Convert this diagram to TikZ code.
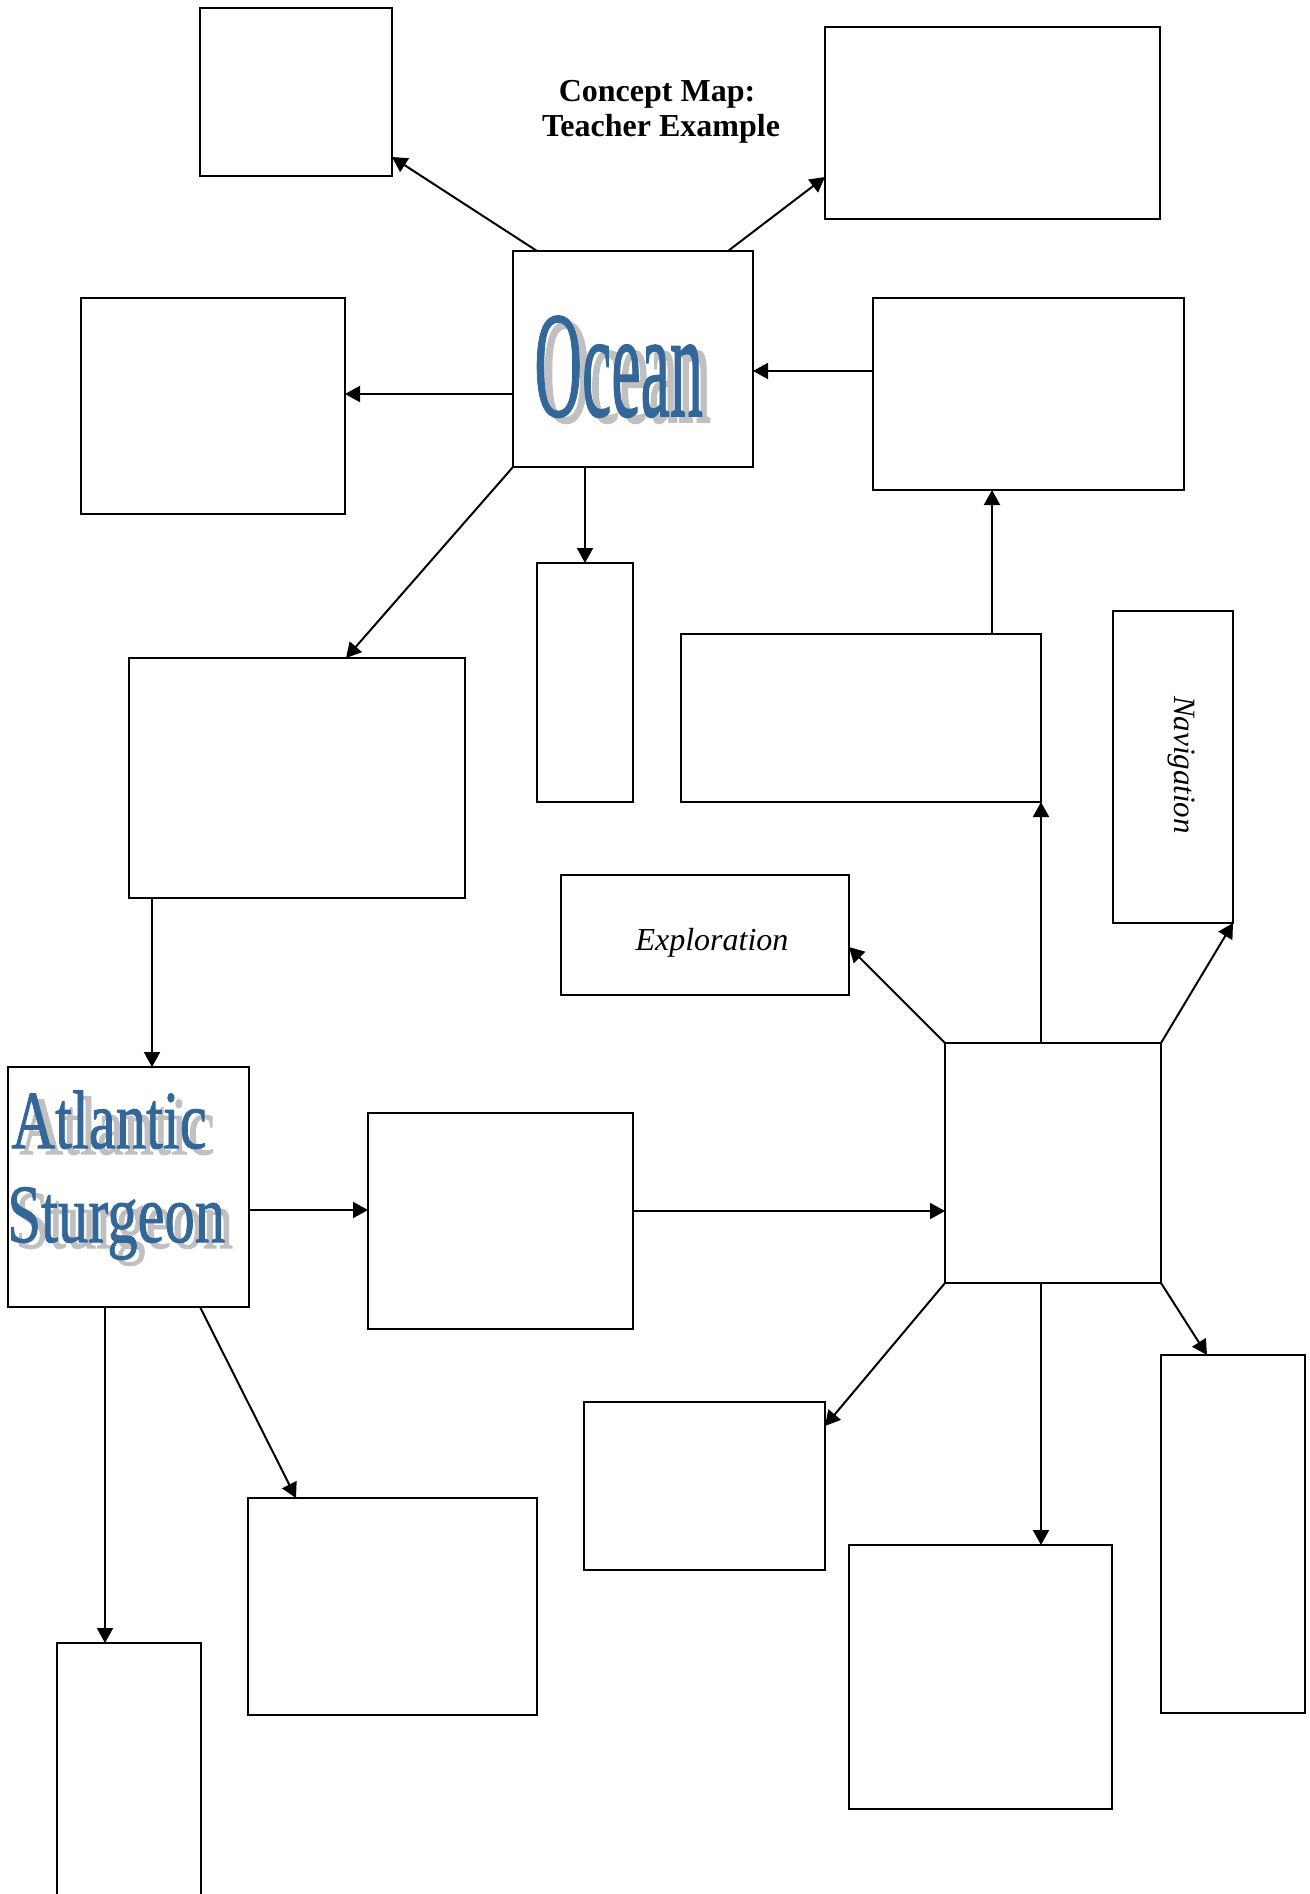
\documentclass[tikz,border=0pt]{standalone}
\usepackage{fontspec}
\setmainfont{Liberation Serif}
\newfontfamily\wafont{Liberation Serif}[FakeBold=1.2]
\usetikzlibrary{arrows.meta}
\definecolor{wablue}{HTML}{336699}
\definecolor{wagray}{HTML}{C0C0C0}
\newcommand\shadowword[3]{%
  \makebox[0pt][l]{\hspace*{4pt}\raisebox{-3pt}{\textcolor{wagray}{\scalebox{#1}[#2]{#3}}}}%
  \textcolor{wablue}{\scalebox{#1}[#2]{#3}}}
\begin{document}
\begin{tikzpicture}[x=0.5pt,y=-0.5pt,
  box/.style={draw, rectangle, line width=1pt, inner sep=0pt, outer sep=0pt},
  arr/.style={line width=1pt, -{Triangle[length=7.5pt,width=8pt]}}]
\useasboundingbox (0,0) rectangle (1310,1894);
\clip (0,0) rectangle (1310,1894);
% boxes
\node[box, minimum width=96pt, minimum height=84pt] (b1) at (296,92) {};
\node[box, minimum width=167.5pt, minimum height=96pt] (b2) at (992.5,123) {};
\node[box, minimum width=120pt, minimum height=108pt] (ocean) at (633,359) {};
\node[box, minimum width=132pt, minimum height=108pt] (b3) at (213,406) {};
\node[box, minimum width=155.5pt, minimum height=96pt] (b4) at (1028.5,394) {};
\node[box, minimum width=48pt, minimum height=119.5pt] (b5) at (585,682.5) {};
\node[box, minimum width=168pt, minimum height=120pt] (b6) at (297,778) {};
\node[box, minimum width=180pt, minimum height=84pt] (b7) at (861,718) {};
\node[box, minimum width=60pt, minimum height=156pt] (nav) at (1173,767) {};
\node[box, minimum width=144pt, minimum height=60pt] (expl) at (705,935) {};
\node[box, minimum width=108pt, minimum height=120pt] (hub) at (1053,1163) {};
\node[box, minimum width=120.5pt, minimum height=120pt] (stur) at (128.5,1187) {};
\node[box, minimum width=132.5pt, minimum height=108pt] (b8) at (500.5,1221) {};
\node[box, minimum width=120.5pt, minimum height=84pt] (b9) at (704.5,1486) {};
\node[box, minimum width=72pt, minimum height=179pt] (b10) at (1233,1534) {};
\node[box, minimum width=131.5pt, minimum height=132pt] (b11) at (980.5,1677) {};
\node[box, minimum width=144.5pt, minimum height=108.5pt] (b12) at (392.5,1606.5) {};
\node[box, minimum width=72pt, minimum height=153.5pt] (b13) at (129,1796.5) {};
% texts
\node[anchor=base, inner sep=0pt, font=\fontsize{16}{18}\selectfont\bfseries] (title1) at (657,101.5) {Concept Map:};
\node[anchor=base, inner sep=0pt, font=\fontsize{16}{18}\selectfont\bfseries] (title2) at (661,136.5) {Teacher Example};
\node[anchor=base west, inner sep=0pt, font=\wafont\fontsize{33}{36}\selectfont] (oceantext) at (534,416) {\shadowword{1}{2.29}{Ocean}};
\node[anchor=base west, inner sep=0pt, font=\wafont\fontsize{30}{34}\selectfont] (sturtext) at (7,1242) {\shadowword{1.01}{1.38}{\begin{tabular}[b]{@{}l@{}}\hspace*{2pt}Atlantic\\Sturgeon\end{tabular}}};
\node[rotate=-90, anchor=base, inner sep=0pt, font=\fontsize{15.5}{18}\selectfont\itshape] (navtext) at (1174,765) {Navigation};
\node[anchor=base, inner sep=0pt, font=\fontsize{16}{18}\selectfont\itshape] (expltext) at (712,950) {Exploration};
% connectors
\draw[arr] ([xshift=12pt]ocean.north west) -- ([yshift=9.5pt]b1.south east);
\draw[arr] ([xshift=-12.5pt]ocean.north east) -- ([yshift=21pt]b2.south west);
\draw[arr] ([yshift=-17.5pt]ocean.west) coordinate (p1) -- (p1 -| b3.east);
\draw[arr] ([yshift=11.5pt]b4.west) coordinate (p2) -- (p2 -| ocean.east);
\draw[arr] (ocean.south -| b5.north) -- (b5.north);
\draw[arr] (ocean.south west) -- ([xshift=108.5pt]b6.north west);
\draw[arr] ([xshift=155.5pt]b7.north west) coordinate (p3) -- (p3 |- b4.south);
\draw[arr] ([xshift=11.5pt]b6.south west) coordinate (p4) -- (p4 |- stur.north);
\draw[arr] (hub.north -| b7.south east) -- (b7.south east);
\draw[arr] (hub.north west) -- ([yshift=-6pt]expl.east);
\draw[arr] (hub.north east) -- (nav.south east);
\draw[arr] ([yshift=-11.5pt]stur.east) coordinate (p5) -- (p5 -| b8.west);
\draw[arr] ([yshift=5pt]b8.east) coordinate (p6) -- (p6 -| hub.west);
\draw[arr] (hub.south west) -- ([yshift=-12pt]b9.north east);
\draw[arr] ([xshift=48pt]hub.south west) coordinate (p7) -- (p7 |- b11.north);
\draw[arr] (hub.south east) -- ([xshift=23pt]b10.north west);
\draw[arr] ([xshift=48.5pt]stur.south west) coordinate (p8) -- (p8 |- b13.north);
\draw[arr] ([xshift=96pt]stur.south west) -- ([xshift=24pt]b12.north west);
\end{tikzpicture}
\end{document}
